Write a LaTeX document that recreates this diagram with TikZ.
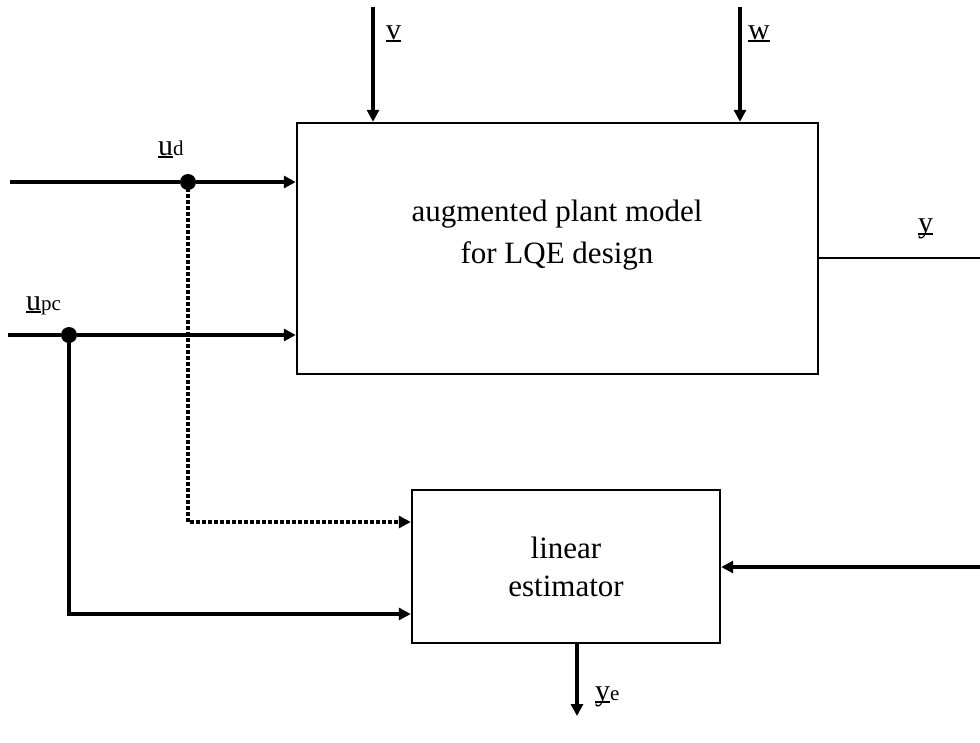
\documentclass[tikz,border=0pt]{standalone}
\usepackage{fontspec}
\setmainfont{Liberation Serif}
\usetikzlibrary{arrows.meta}
\newcommand\ulx[1]{\setbox0\hbox{#1}\rlap{\rule[-3pt]{\wd0}{1.8pt}}\box0}
\newcommand\subx[1]{{\fontsize{21}{21}\selectfont #1}}
\begin{document}
\begin{tikzpicture}[x=1pt,y=-1pt,
  blk/.style={draw,line width=2.4pt,inner sep=0pt},
  tip/.style={-{Triangle[length=12pt,width=12pt]}},
  sig/.style={line width=3.8pt,tip},
  thin/.style={line width=2.4pt},
  dotsig/.style={line width=3.8pt,dash pattern=on 3.5pt off 2.5pt,tip},
  junc/.style={circle,fill=black,inner sep=0pt,minimum size=16pt},
  lbl/.style={font=\fontsize{30}{34}\selectfont,inner sep=0pt,anchor=base west}]
\useasboundingbox (0,0) rectangle (980,742);
% blocks
\node[blk,minimum width=521pt,minimum height=251pt] (plant) at (557.5,248.5) {};
\node[font=\fontsize{31}{42}\selectfont,align=center,inner sep=0pt] (plantT) at (557,235) {augmented plant model\\for LQE design};
\node[blk,minimum width=308pt,minimum height=153pt,font=\fontsize{31}{38}\selectfont,align=center] (est) at (566,566.5) {linear\\estimator};
% coordinates
\coordinate (udin) at (10,182);
\coordinate (upcin) at (8,335);
\node[junc] (jd) at (188,182) {};
\node[junc] (jpc) at (69,335) {};
\coordinate (vin) at (373,7);
\coordinate (win) at (740,7);
\coordinate (yout) at (980,258);
\coordinate (fbin) at (980,567);
\coordinate (yeout) at (577,716);
\coordinate (dcorner) at (188,522);
\coordinate (pccorner) at (69,614);
% connectors
\draw[line width=3.8pt] (udin) -- (jd);
\draw[sig] (jd) -- (jd -| plant.west);
\draw[line width=3.8pt] (upcin) -- (jpc);
\draw[sig] (jpc) -- (jpc -| plant.west);
\draw[sig] (vin) -- (vin |- plant.north);
\draw[sig] (win) -- (win |- plant.north);
\draw[thin] (yout -| plant.east) -- (yout);
\draw[sig] (fbin) -- (fbin -| est.east);
\draw[sig] (yeout |- est.south) -- (yeout);
\draw[dotsig] (jd.center) -- (dcorner) -- (dcorner -| est.west);
\draw[line width=3.3pt,tip] (jpc.center) -- (pccorner) -- (pccorner -| est.west);
% labels
\node[lbl] (lv) at (386,39) {\ulx{v}};
\node[lbl] (lw) at (748,39) {\ulx{w}};
\node[lbl] (ly) at (918,232) {\ulx{y}};
\node[lbl] (lud) at (158,155) {\ulx{u}\subx{d}};
\node[lbl] (lupc) at (26,310) {\ulx{u}\subx{pc}};
\node[lbl] (lye) at (595,700) {\ulx{y}\subx{e}};
\end{tikzpicture}
\end{document}
